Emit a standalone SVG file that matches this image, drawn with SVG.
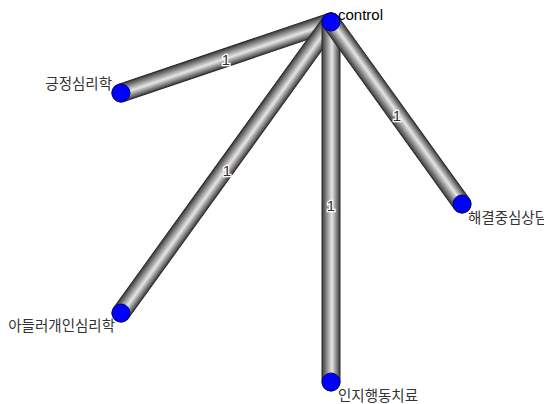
<svg xmlns="http://www.w3.org/2000/svg" width="544" height="404" viewBox="0 0 544 404">
<defs>
<linearGradient id="tube" x1="0" y1="0" x2="0" y2="1">
<stop offset="0" stop-color="#3a3a3a"/>
<stop offset="0.45" stop-color="#e6e6e6"/>
<stop offset="1" stop-color="#3a3a3a"/>
</linearGradient>
<style>
.tube{fill:url(#tube);stroke:#2a2a2a;stroke-width:1}
.node{fill:#0000ff;stroke:#00007a;stroke-width:1}
.lbl{font-family:"Noto Sans CJK KR","Liberation Sans",sans-serif;font-size:14.5px;fill:#333}
.elbl{font-family:"Liberation Sans",sans-serif;font-size:15px;fill:#333;stroke:#fff;stroke-width:2.5;paint-order:stroke;text-anchor:middle}
</style>
</defs>
<rect width="544" height="404" fill="#fff"/>
<g id="edges">
<g transform="translate(331,22) rotate(161.32)"><rect class="tube" x="-9" y="-9" width="239.7" height="18" rx="9"/></g>
<g transform="translate(331,22) rotate(125.81)"><rect class="tube" x="-9" y="-9" width="376.9" height="18" rx="9"/></g>
<g transform="translate(331,22) rotate(90)"><rect class="tube" x="-9" y="-9" width="378" height="18" rx="9"/></g>
<g transform="translate(331,22) rotate(54.26)"><rect class="tube" x="-9" y="-9" width="242.2" height="18" rx="9"/></g>
<text class="elbl" x="226" y="65">1</text>
<text class="elbl" x="227" y="176">1</text>
<text class="elbl" x="331" y="211">1</text>
<text class="elbl" x="397" y="121">1</text>
</g>
<g id="n-control"><circle class="node" cx="331" cy="22" r="9"/><text x="338" y="20" font-family="Liberation Sans,sans-serif" font-size="15" fill="#000">control</text></g>
<g id="n-positive"><circle class="node" cx="121" cy="93" r="9"/><text class="lbl" x="112" y="89" text-anchor="end">긍정심리학</text></g>
<g id="n-adler"><circle class="node" cx="121" cy="313" r="9"/><text class="lbl" x="115" y="331" text-anchor="end">아들러개인심리학</text></g>
<g id="n-cbt"><circle class="node" cx="331" cy="382" r="9"/><text class="lbl" x="338" y="401">인지행동치료</text></g>
<g id="n-sfbt"><circle class="node" cx="462" cy="204" r="9"/><text class="lbl" x="468" y="223">해결중심상담</text></g>
</svg>
